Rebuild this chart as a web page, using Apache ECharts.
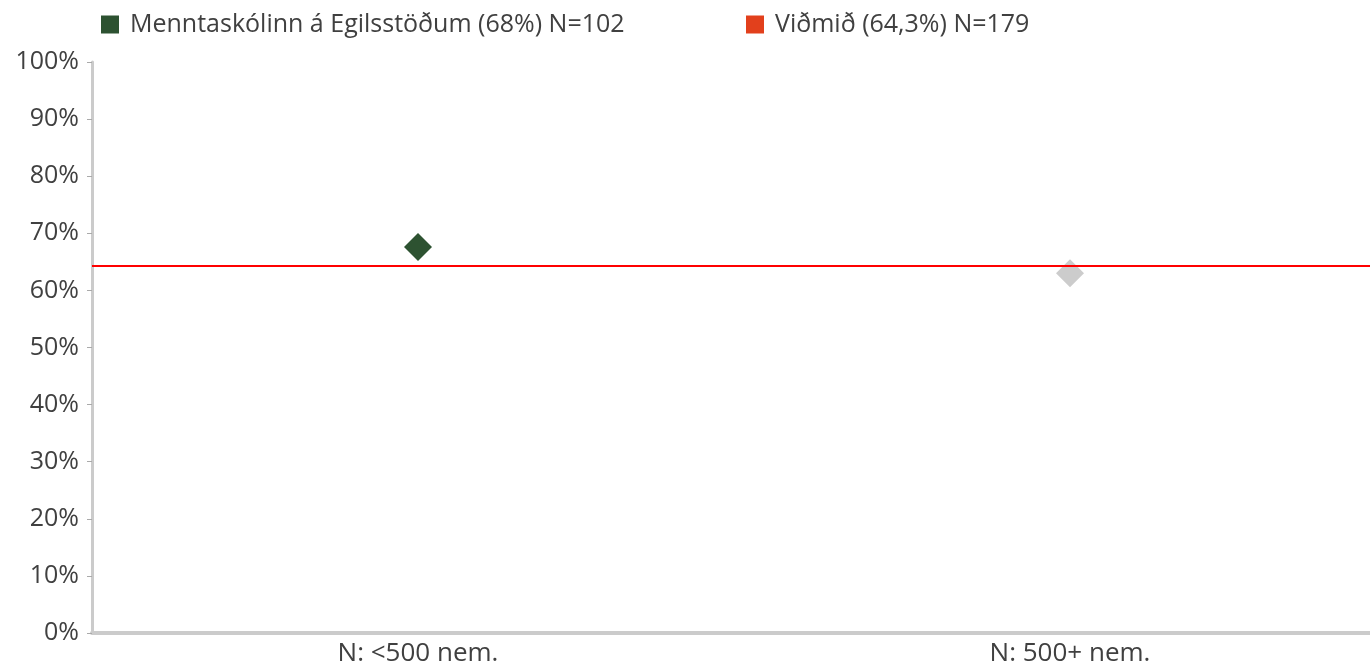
<!DOCTYPE html>
<html><head><meta charset="utf-8">
<script src="https://cdn.jsdelivr.net/npm/echarts@6/dist/echarts.min.js"></script>
<style>html,body{margin:0;padding:0;background:#fff}#c{width:1370px;height:664px}</style>
</head><body><div id="c"></div>
<script>
const categories = ['N: <500 nem.', 'N: 500+ nem.'];
const schoolValues = [67.6, 63.0];
const pointColors = ['#2d5231', '#cccccc'];
const benchmark = 64.3;
const seriesNames = ['Menntaskólinn á Egilsstöðum (68%) N=102', 'Viðmið (64,3%) N=179'];
const legendColors = ['#2d5231', '#e2401c'];

const font = 'Open Sans';
const chart = echarts.init(document.getElementById('c'));
const legendText = {fontSize: 25, color: '#404040', fontFamily: font, padding: [0, 0, 0, 6]};
chart.setOption({
  animation: false,
  textStyle: {fontFamily: font},
  grid: {left: 92, top: 62, height: 571, width: 1304, outerBoundsMode: 'none', containLabel: false},
  legend: [
    {data: [seriesNames[0]], left: 96, top: 7, icon: 'rect', itemWidth: 18, itemHeight: 18,
     textStyle: legendText},
    {data: [seriesNames[1]], left: 741, top: 7, icon: 'rect', itemWidth: 18, itemHeight: 18,
     textStyle: legendText}
  ],
  xAxis: {
    type: 'category', data: categories,
    axisLine: {lineStyle: {color: '#cbcbcb', width: 4}},
    axisTick: {show: false},
    axisLabel: {fontSize: 26, color: '#404040', margin: 8}
  },
  yAxis: {
    type: 'value', min: 0, max: 100, interval: 10,
    axisLine: {show: true, lineStyle: {color: '#cbcbcb', width: 3}},
    axisTick: {show: true, length: 5, lineStyle: {color: '#aaaaaa', width: 1}},
    splitLine: {show: false},
    axisLabel: {fontSize: 25, color: '#404040', margin: 13, formatter: '{value}%'}
  },
  series: [
    {
      name: seriesNames[0], type: 'scatter', symbol: 'diamond', symbolSize: 28,
      itemStyle: {color: legendColors[0], opacity: 1},
      data: schoolValues.map((v, i) => ({value: v, itemStyle: {color: pointColors[i], opacity: 1}}))
    },
    {
      name: seriesNames[1], type: 'scatter', data: [],
      itemStyle: {color: legendColors[1], opacity: 1},
      markLine: {
        symbol: 'none', silent: true, label: {show: false},
        lineStyle: {color: '#ff0000', width: 2, type: 'solid', opacity: 1},
        data: [{yAxis: benchmark}]
      }
    }
  ]
});
</script></body></html>
